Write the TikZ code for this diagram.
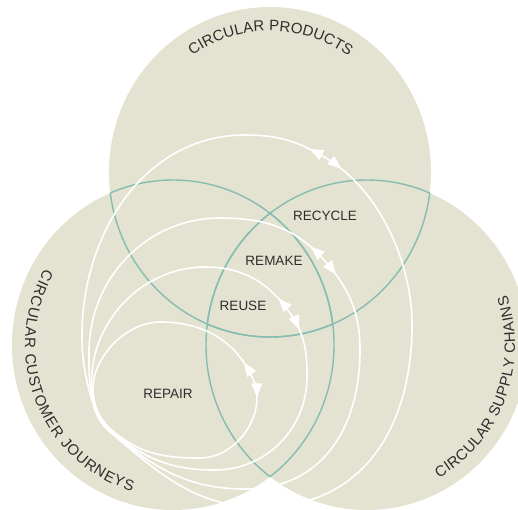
\documentclass[tikz,border=0pt]{standalone}
\usepackage{fontspec}
\setmainfont{Liberation Sans}
\usetikzlibrary{arrows.meta,decorations.markings,decorations.text}
\definecolor{vennfill}{RGB}{228,227,209}
\definecolor{vennline}{RGB}{134,189,176}
\definecolor{ink}{RGB}{45,45,45}
\newcommand{\arcfont}{\fontsize{15}{15}\selectfont}
\begin{document}
\begin{tikzpicture}[x=1pt,y=1pt,
  zone/.style={fill=vennfill},
  edge/.style={draw=vennline, line width=1.4pt},
  loopline/.style={draw=white, line width=1.6pt, postaction={decorate},
    decoration={markings,
      mark=at position 19pt with {\arrow{Triangle[length=14pt,width=10.5pt,color=white]}},
      mark=at position -19pt with {\arrowreversed{Triangle[length=14pt,width=10.5pt,color=white]}}}},
  lbl/.style={text=ink, font=\fontsize{13.5}{13.5}\selectfont, inner sep=0pt},
  arctext/.style={decorate, decoration={text along path, text align={fit to path}, text color=ink, text={|\arcfont|#1}}}
]
\clip (0,0) rectangle (518,-509);
% circles
\coordinate (ctop) at (270,-172);
\coordinate (cleft) at (173,-345);
\coordinate (cright) at (367,-345);
\fill[zone] (ctop) ellipse [x radius=161, y radius=165];
\fill[zone] (cleft) ellipse [x radius=161, y radius=165];
\fill[zone] (cright) ellipse [x radius=161, y radius=165];
% outlines inside the other circles
\begin{scope}
  \clip (ctop) ellipse [x radius=161, y radius=165];
  \draw[edge] (cleft) ellipse [x radius=161, y radius=165];
  \draw[edge] (cright) ellipse [x radius=161, y radius=165];
\end{scope}
\begin{scope}
  \clip (cleft) ellipse [x radius=161, y radius=165];
  \draw[edge] (ctop) ellipse [x radius=161, y radius=165];
  \draw[edge] (cright) ellipse [x radius=161, y radius=165];
\end{scope}
\begin{scope}
  \clip (cright) ellipse [x radius=161, y radius=165];
  \draw[edge] (ctop) ellipse [x radius=161, y radius=165];
  \draw[edge] (cleft) ellipse [x radius=161, y radius=165];
\end{scope}
% loops (each starts at the middle of its arrow pair, runs clockwise)
\coordinate (m1) at (253,-379);
\coordinate (m2) at (290,-313);
\coordinate (m3) at (324,-260);
\coordinate (m4) at (326,-158);
\draw[loopline] (m1) to[out=-66,in=0] (200,-458) to[out=180,in=-40] (113.3,-431.3)
  to[out=140,in=-83] (93.3,-394.3) to[out=97,in=180,looseness=0.9] (160,-322)
  to[out=0,in=114] (m1);
\draw[loopline] (m2) to[out=-55,in=90] (307,-377) to[out=-90,in=0] (215,-470)
  to[out=180,in=-40] (112.4,-431.8) to[out=140,in=-83] (92.4,-394.8)
  to[out=97,in=180] (205,-267) to[out=0,in=125] (m2);
\draw[loopline] (m3) to[out=-48.5,in=90] (360,-350) to[out=-90,in=0,looseness=1.1] (245,-489)
  to[out=180,in=-40] (111.6,-432.2) to[out=140,in=-80] (91.6,-395.2)
  to[out=100,in=-90] (89,-352) to[out=90,in=180] (220,-218) to[out=0,in=131.5] (m3);
\draw[loopline] (m4) to[out=-30.7,in=90,looseness=0.85] (412,-325) to[out=-90,in=0,looseness=1.1] (262,-507)
  to[out=180,in=-40] (110.7,-432.7) to[out=140,in=-75] (90.7,-395.7)
  to[out=105,in=-90] (82,-335) to[out=90,in=180] (245,-135) to[out=0,in=149.3] (m4);
% labels
\node[lbl] (recycle) at (325,-216) {RECYCLE};
\node[lbl] (remake) at (274,-261) {REMAKE};
\node[lbl] (reuse) at (243,-306) {REUSE};
\node[lbl] (repair) at (168,-394) {REPAIR};
% curved titles
\path[arctext={CIRCULAR PRODUCTS}] ([shift={(124.5:137 and 141)}]ctop) arc[start angle=124.5, end angle=55, x radius=137, y radius=141];
\path[arctext={CIRCULAR CUSTOMER JOURNEYS}] ([shift={(150:148 and 152)}]cleft) arc[start angle=150, end angle=254, x radius=148, y radius=152];
\path[arctext={CIRCULAR SUPPLY CHAINS}] ([shift={(-61:148 and 152)}]cright) arc[start angle=-61, end angle=19, x radius=148, y radius=152];
\end{tikzpicture}
\end{document}
